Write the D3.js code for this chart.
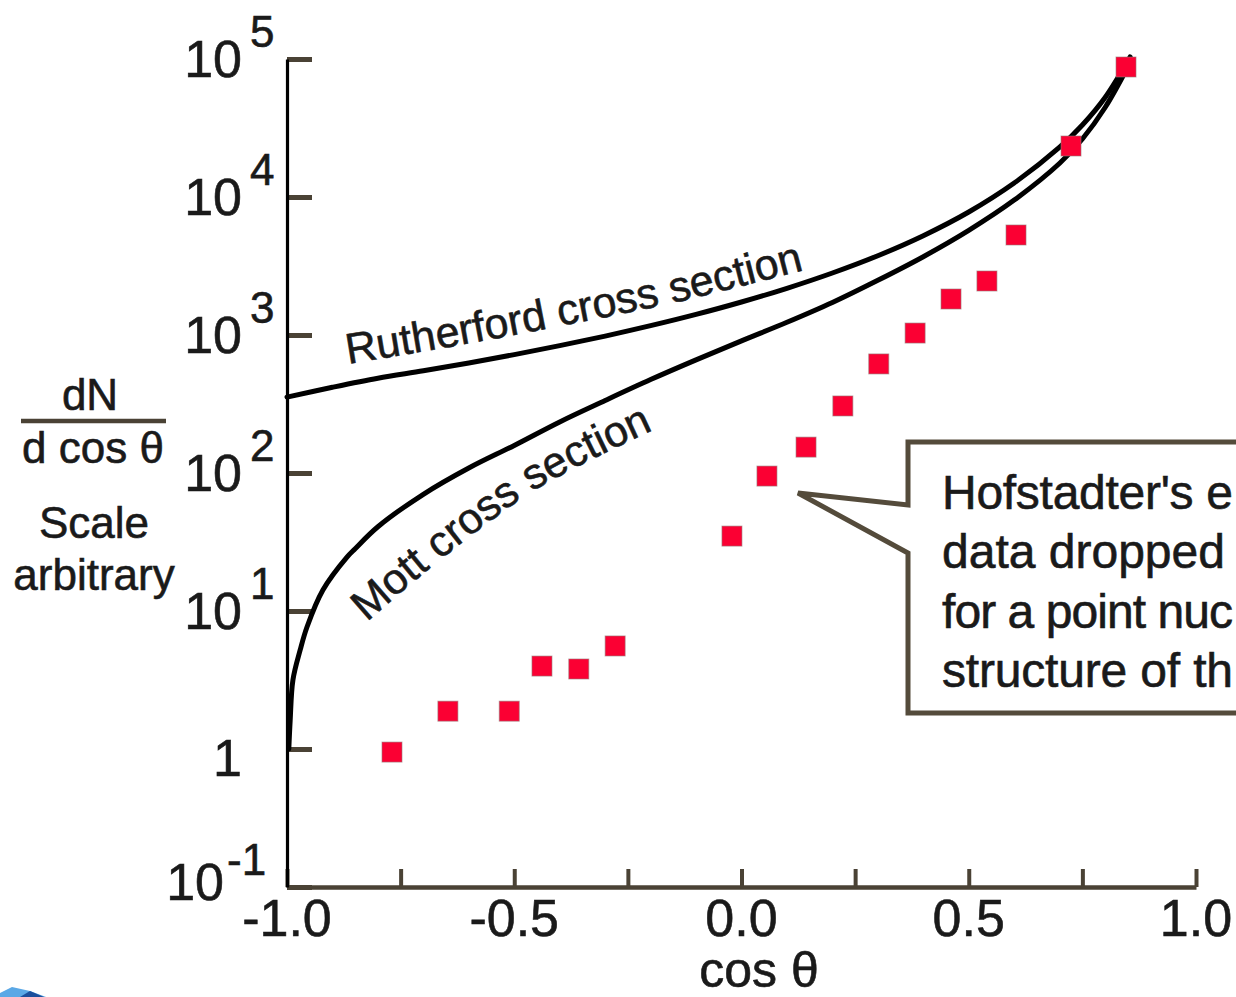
<!DOCTYPE html>
<html>
<head>
<meta charset="utf-8">
<script src="https://cdn.jsdelivr.net/npm/d3@7/dist/d3.min.js"></script>
<style>
  html, body { margin: 0; padding: 0; background: #ffffff; }
  svg { display: block; }
</style>
</head>
<body>
<div id="chart"></div>
<script>
// ---------------- data ----------------
const xTickValues = [-1.0, -0.75, -0.5, -0.25, 0.0, 0.25, 0.5, 0.75, 1.0];
const xTickLabelValues = [-1.0, -0.5, 0.0, 0.5, 1.0];
const xTickLabels = ["-1.0", "-0.5", "0.0", "0.5", "1.0"];

const yTickValues = [0.1, 1, 10, 100, 1000, 10000, 100000];
const yTickBase = ["10", "1", "10", "10", "10", "10", "10"];
const yTickExp = ["-1", "", "1", "2", "3", "4", "5"];

// Hofstadter's experimental data (cos theta, counts)
const hofCos = [-0.769, -0.646, -0.511, -0.439, -0.358, -0.278, -0.021, 0.056, 0.142, 0.223, 0.302, 0.382, 0.461, 0.540, 0.604, 0.725, 0.846];
const hofCounts = [0.95, 1.88, 1.88, 3.99, 3.80, 5.58, 34.9, 95, 154, 306, 617, 1033, 1823, 2462, 5305, 23420, 87500];

// Rutherford cross section curve
const rutherfordCos = [-1.0, -0.9, -0.8, -0.7, -0.6, -0.5, -0.4, -0.3, -0.2, -0.1, 0.0, 0.1, 0.2, 0.3, 0.4, 0.5, 0.6, 0.7, 0.75, 0.8, 0.855];
const rutherfordVals = [355, 418, 486, 550, 627, 721, 837, 982, 1168, 1410, 1734, 2180, 2814, 3754, 5244, 7787, 12630, 22960, 33240, 52600, 103400];

// Mott cross section curve
const mottCos = [-0.996, -0.993, -0.987, -0.971, -0.956, -0.921, -0.868, -0.85, -0.8, -0.7, -0.6, -0.5, -0.4, -0.3, -0.2, -0.1, 0.0, 0.1, 0.2, 0.3, 0.4, 0.5, 0.6, 0.7, 0.75, 0.8, 0.851];
const mottVals = [1.0, 1.62, 3.16, 5.22, 7.66, 14.2, 24.6, 28.3, 40.8, 70.1, 108.7, 158.5, 234.6, 335.3, 475.2, 660.1, 906.4, 1236, 1720, 2491, 3693, 5728, 9495, 17550, 26330, 44530, 88980];

const calloutLines = ["Hofstadter's e", "data dropped", "for a point nuc", "structure of th"];
const yTitleLines = ["Scale", "arbitrary"];

// ---------------- layout ----------------
const W = 1236, H = 997;
const FONT = "'Liberation Sans', Arial, Helvetica, sans-serif";
const TEXT = "#1a1a1a";
const GRAY = "#4a4235";
const TSTROKE = 0.6;

const svg = d3.select("#chart").append("svg")
  .attr("width", W).attr("height", H)
  .attr("viewBox", `0 0 ${W} ${H}`)
  .style("font-family", FONT);

svg.append("rect").attr("width", W).attr("height", H).attr("fill", "#ffffff");

const x = d3.scaleLinear().domain([-1, 1]).range([287, 1196]);
const y = d3.scaleLog().domain([0.1, 1e5]).range([887, 59]);

function styleText(sel) {
  return sel.attr("fill", TEXT).attr("stroke", TEXT).attr("stroke-width", TSTROKE);
}

// ---------------- axes ----------------
const xAxis = d3.axisBottom(x).tickValues(xTickValues).tickSizeInner(-18).tickSizeOuter(0).tickFormat(() => "");
const gx = svg.append("g").attr("transform", `translate(0,${y(0.1)})`).call(xAxis);
gx.select(".domain").attr("stroke", GRAY).attr("stroke-width", 4.5);
gx.selectAll(".tick line").attr("stroke", GRAY).attr("stroke-width", 4);

const yAxis = d3.axisLeft(y).tickValues(yTickValues).tickSizeInner(-25).tickSizeOuter(0).tickFormat(() => "");
const gy = svg.append("g").attr("transform", `translate(${x(-1)},0)`).call(yAxis);
gy.select(".domain").attr("stroke", "#000").attr("stroke-width", 3.2);
gy.selectAll(".tick line").attr("stroke", GRAY).attr("stroke-width", 5);
gy.select(".domain").raise();

// x tick labels
styleText(svg.append("g").selectAll("text")
  .data(xTickLabelValues)
  .join("text")
  .attr("x", d => x(d))
  .attr("y", y(0.1) + 49)
  .attr("text-anchor", "middle")
  .attr("font-size", 52)
  .text((d, i) => xTickLabels[i]));

// y tick labels with superscripts
const yl = svg.append("g");
yTickValues.forEach((v, i) => {
  const isNeg = yTickExp[i] === "-1";
  const isOne = yTickExp[i] === "";
  const xEnd = isNeg ? 224 : 242;
  const base = isOne ? y(v) + 27 : (isNeg ? y(v) + 13 : y(v) + 18);
  styleText(yl.append("text")
    .attr("x", xEnd)
    .attr("y", base)
    .attr("text-anchor", "end")
    .attr("font-size", 52)
    .text(yTickBase[i]));
  if (yTickExp[i]) {
    styleText(yl.append("text")
      .attr("x", xEnd + (isNeg ? 3 : 8))
      .attr("y", y(v) - 12)
      .attr("font-size", 44)
      .text(yTickExp[i]));
  }
});

// axis titles
const yt = svg.append("g").attr("font-size", 44).attr("text-anchor", "middle");
styleText(yt);
yt.append("text").attr("x", 90).attr("y", 410).text("dN");
svg.append("line").attr("x1", 21).attr("x2", 166).attr("y1", 421).attr("y2", 421)
  .attr("stroke", GRAY).attr("stroke-width", 4.5);
yt.append("text").attr("x", 93).attr("y", 463).text("d cos θ");
yt.selectAll("text.sub").data(yTitleLines).join("text")
  .attr("class", "sub")
  .attr("x", 94)
  .attr("y", (d, i) => 538 + i * 52)
  .text(d => d);

styleText(svg.append("text").attr("x", 759).attr("y", 987)
  .attr("text-anchor", "middle").attr("font-size", 50)
  .text("cos θ"));

// ---------------- curves ----------------
const line = d3.line()
  .x(d => x(d[0]))
  .y(d => y(d[1]))
  .curve(d3.curveCatmullRom.alpha(0.5));

const rutherford = rutherfordCos.map((c, i) => [c, rutherfordVals[i]]);
const mott = mottCos.map((c, i) => [c, mottVals[i]]);

[rutherford, mott].forEach(series => {
  svg.append("path").datum(series).attr("d", line)
    .attr("fill", "none").attr("stroke", "#000").attr("stroke-width", 5)
    .attr("stroke-linejoin", "round").attr("stroke-linecap", "round");
});

// curve labels along baseline guides
const guide = d3.line().curve(d3.curveCatmullRom.alpha(0.5));
const defs = svg.append("defs");
defs.append("path").attr("id", "rguide")
  .attr("d", guide([[348, 364], [455, 346], [560, 326], [673, 303], [808, 269]]));
defs.append("path").attr("id", "mguide")
  .attr("d", guide([[367, 622], [440, 560], [540, 487], [660, 427]]));

styleText(svg.append("text").attr("font-size", 43))
  .append("textPath").attr("href", "#rguide").attr("startOffset", 0)
  .text("Rutherford cross section");
styleText(svg.append("text").attr("font-size", 43))
  .append("textPath").attr("href", "#mguide").attr("startOffset", 0)
  .text("Mott cross section");

// ---------------- data points ----------------
const SQ = 20;
svg.append("g").selectAll("rect")
  .data(hofCos.map((c, i) => [c, hofCounts[i]]))
  .join("rect")
  .attr("x", d => x(d[0]) - SQ / 2)
  .attr("y", d => y(d[1]) - SQ / 2)
  .attr("width", SQ).attr("height", SQ)
  .attr("fill", "#fb0033")
  .attr("stroke", "rgba(150,120,120,0.6)")
  .attr("stroke-width", 1);

// ---------------- callout box ----------------
const bx = 908, btop = 442, bbot = 713;
const tip = [798, 493];
svg.append("path")
  .attr("d", `M ${W + 10},${btop} L ${bx},${btop} L ${bx},505 L ${tip[0]},${tip[1]} L ${bx},553 L ${bx},${bbot} L ${W + 10},${bbot}`)
  .attr("fill", "#fff")
  .attr("stroke", "#544b3b")
  .attr("stroke-width", 5)
  .attr("stroke-linejoin", "miter");

const TX = 942;
const calloutTexts = styleText(svg.append("g").attr("font-size", 48))
  .selectAll("text").data(calloutLines).join("text")
  .attr("x", TX)
  .attr("y", (d, i) => 509 + i * 59.3)
  .text(d => d);
// keep each line inside the picture's right edge
calloutTexts.each(function () {
  const len = this.getComputedTextLength();
  const room = W - 3 - TX;
  if (len > room) {
    d3.select(this).attr("textLength", room).attr("lengthAdjust", "spacing");
  }
});

// ---------------- corner logo fragment ----------------
svg.append("path").attr("d", "M0,997 L0,993 L12,987 L30,991 L46,997 Z").attr("fill", "#5aa8e6");
svg.append("path").attr("d", "M20,997 L30,991 L44,997 Z").attr("fill", "#1c4f9c");
</script>
</body>
</html>
